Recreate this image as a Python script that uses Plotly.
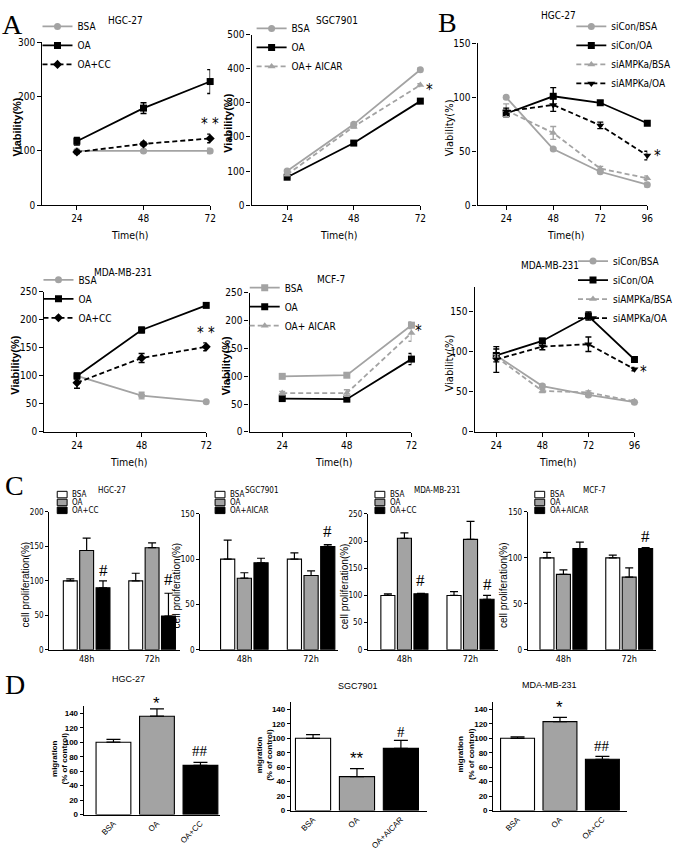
import plotly.graph_objects as go

W, H = 678, 858
GREY = '#a3a3a3'
BLACK = '#000000'
NARROW = "Liberation Sans Narrow, Arial Narrow, DejaVu Sans Condensed, sans-serif"
SANS = "Liberation Sans, Arial, DejaVu Sans, sans-serif"
SERIF = "Liberation Serif, Times New Roman, DejaVu Serif, serif"

# ---------------- data ----------------
T3 = [24, 48, 72]
T4 = [24, 48, 72, 96]

# A: HGC-27
a1_bsa = [100, 100, 100]; a1_bsa_err = [2, 2, 5]
a1_oa = [118, 179, 228]; a1_oa_err = [7, 10, 22]
a1_cc = [98, 113, 123]; a1_cc_err = [3, 3, 8]
# A: SGC7901
a2_bsa = [100, 237, 397]; a2_bsa_err = [4, 4, 5]
a2_oa = [82, 182, 305]; a2_oa_err = [3, 5, 7]
a2_aicar = [90, 230, 352]; a2_aicar_err = [3, 4, 4]
# B: HGC-27
b1_con_bsa = [100, 52, 31, 19]; b1_con_bsa_err = [1, 1, 1, 2]
b1_con_oa = [85, 101, 95, 76]; b1_con_oa_err = [3, 8, 2, 2]
b1_ampk_bsa = [88, 67, 34, 25]; b1_ampk_bsa_err = [6, 6, 2, 2]
b1_ampk_oa = [87, 93, 74, 46]; b1_ampk_oa_err = [3, 6, 3, 4]
# A: MDA-MB-231
a3_bsa = [100, 65, 54]; a3_bsa_err = [5, 6, 2]
a3_oa = [100, 182, 226]; a3_oa_err = [5, 5, 3]
a3_cc = [88, 132, 152]; a3_cc_err = [10, 8, 7]
# A: MCF-7
a4_bsa = [100, 102, 192]; a4_bsa_err = [2, 3, 6]
a4_oa = [60, 59, 131]; a4_oa_err = [3, 3, 10]
a4_aicar = [70, 70, 178]; a4_aicar_err = [3, 6, 15]
# B: MDA-MB-231
b2_con_bsa = [95, 57, 46, 37]; b2_con_bsa_err = [3, 2, 2, 2]
b2_con_oa = [95, 113, 144, 90]; b2_con_oa_err = [8, 3, 5, 3]
b2_ampk_bsa = [93, 51, 49, 38]; b2_ampk_bsa_err = [3, 2, 2, 2]
b2_ampk_oa = [90, 106, 109, 78]; b2_ampk_oa_err = [16, 4, 9, 2]

# C: cell proliferation
C_CATS = ['48h', '72h']
c1_bsa = [100, 100]; c1_bsa_err = [3, 11]
c1_oa = [144, 148]; c1_oa_err = [18, 7]
c1_cc = [90, 49]; c1_cc_err = [10, 33]
c2_bsa = [100, 100]; c2_bsa_err = [21, 7]
c2_oa = [79, 82]; c2_oa_err = [6, 5]
c2_aicar = [96, 114]; c2_aicar_err = [5, 2]
c3_bsa = [100, 100]; c3_bsa_err = [3, 7]
c3_oa = [205, 203]; c3_oa_err = [10, 33]
c3_cc = [103, 93]; c3_cc_err = [1, 7]
c4_bsa = [100, 100]; c4_bsa_err = [6, 3]
c4_oa = [82, 79]; c4_oa_err = [5, 10]
c4_aicar = [110, 110]; c4_aicar_err = [7, 1]

# D: migration
d1_cats = ['BSA', 'OA', 'OA+CC']; d1_vals = [100, 136, 68]; d1_err = [4, 10, 4]
d2_cats = ['BSA', 'OA', 'OA+AICAR']; d2_vals = [100, 47, 86]; d2_err = [5, 11, 11]
d3_cats = ['BSA', 'OA', 'OA+CC']; d3_vals = [100, 123, 71]; d3_err = [2, 6, 4]

# ---------------- helpers ----------------
def dx(l, r):
    return [l / W, r / W]

def dy(t, b):
    return [1 - b / H, 1 - t / H]

def axname(i):
    return ('x' if i == 1 else f'x{i}'), ('y' if i == 1 else f'y{i}')

def legname(i):
    return 'legend' if i == 1 else f'legend{i}'

fig = go.Figure()
annotations = []
shapes = []
AXINFO = {}

AX = dict(showline=True, linecolor='black', linewidth=1.4, ticks='outside', ticklen=4,
          tickwidth=1.3, tickcolor='black', showgrid=False, zeroline=False,
          tickfont=dict(family=NARROW, size=10, color='black'))

def add_axes(i, xl, xr, yt, yb, xrange, yrange, xkw, ykw):
    xa, ya = axname(i)
    xk = 'xaxis' if i == 1 else f'xaxis{i}'
    yk = 'yaxis' if i == 1 else f'yaxis{i}'
    AXINFO[i] = (xl, xr, yt, yb, xrange, yrange)
    fig.layout[xk] = dict(AX, domain=dx(xl, xr), range=xrange, anchor=ya, **xkw)
    fig.layout[yk] = dict(AX, domain=dy(yt, yb), range=yrange, anchor=xa, **ykw)

def ann(text, x, y, size=10, family=NARROW, angle=0, xanchor='center', bold=False, panel=None):
    # panel: position given in that panel's data units, converted to page pixels
    if panel is not None:
        xl, xr, yt, yb, xrg, yrg = AXINFO[panel]
        x = xl + (x - xrg[0]) / (xrg[1] - xrg[0]) * (xr - xl)
        y = yb - (y - yrg[0]) / (yrg[1] - yrg[0]) * (yb - yt)
    annotations.append(dict(
        text=text, showarrow=False, textangle=angle, xanchor=xanchor, yanchor='middle',
        x=x / W, y=1 - y / H, xref='paper', yref='paper',
        font=dict(family=family, size=size, color='black', weight='bold' if bold else 'normal')))

def line(i, x, y, err, name, color, symbol, dash):
    xa, ya = axname(i)
    fig.add_trace(go.Scatter(
        x=x, y=y, name=name, mode='lines+markers', cliponaxis=False,
        line=dict(color=color, width=1.8, dash=dash),
        marker=dict(symbol=symbol, size=7, color=color),
        error_y=dict(type='data', array=err, color=color, thickness=1.4, width=3),
        xaxis=xa, yaxis=ya, legend=legname(i)))

def legend_cfg(i, mx, my, size=10):
    key = legname(i)
    fig.layout[key] = dict(x=(mx - 19) / W, y=1 - (my - 19) / H, xanchor='left', yanchor='top',
                           bgcolor='rgba(0,0,0,0)', font=dict(family=NARROW, size=size, color='black'),
                           itemwidth=30, tracegroupgap=0)

# ---------------- line panels ----------------
line_panels = [
    (1, 43, 213, 37, 202, [11.6, 72], [0, 300], [0, 100, 200, 300], T3, (57, 25), 'HGC-27', (127, 15), 17, True),
    (2, 255, 426, 29, 202, [11.2, 72], [0, 500], [0, 100, 200, 300, 400, 500], T3, (274, 27), 'SGC7901', (342, 15), 231, True),
    (3, 484, 656, 38, 202, [9.4, 96], [0, 150], [0, 50, 100, 150], T4, (598, 25), 'HGC-27', (566, 10), 455, False),
    (4, 45, 209, 290, 432, [11.9, 72], [0, 250], [0, 50, 100, 150, 200, 250], T3, (58, 282), 'MDA-MB-231', (125, 270), 15, True),
    (5, 253, 417, 291, 432, [11.9, 72], [0, 250], [0, 50, 100, 150, 200, 250], T3, (267, 290), 'MCF-7', (335, 277), 229, True),
    (6, 481, 643, 285, 432, [12.7, 96], [0, 180], [0, 50, 100, 150], T4, (600, 263), 'MDA-MB-231', (557, 263), 455, False),
]
for (i, xl, xr, yt, yb, xrg, yrg, yt_vals, xt_vals, lg, title, tpos, ytx, ybold) in line_panels:
    add_axes(i, xl, xr, yt, yb, xrg, yrg, dict(tickvals=xt_vals), dict(tickvals=yt_vals))
    legend_cfg(i, *lg)
    ann(title, tpos[0], tpos[1], size=10)
    ann('Viability(%)', ytx, (yt + yb) / 2 + 3, size=11,
        family=SANS if ybold else NARROW, angle=-90, bold=ybold)
    ann('Time(h)', (xl + xr) / 2 + 3, yb + 30, size=10.5)

line(1, T3, a1_bsa, a1_bsa_err, 'BSA', GREY, 'circle', 'solid')
line(1, T3, a1_oa, a1_oa_err, 'OA', BLACK, 'square', 'solid')
line(1, T3, a1_cc, a1_cc_err, 'OA+CC', BLACK, 'diamond', '5px,3px')
line(2, T3, a2_bsa, a2_bsa_err, 'BSA', GREY, 'circle', 'solid')
line(2, T3, a2_oa, a2_oa_err, 'OA', BLACK, 'square', 'solid')
line(2, T3, a2_aicar, a2_aicar_err, 'OA+ AICAR', GREY, 'triangle-up', '5px,3px')
line(3, T4, b1_con_bsa, b1_con_bsa_err, 'siCon/BSA', GREY, 'circle', 'solid')
line(3, T4, b1_con_oa, b1_con_oa_err, 'siCon/OA', BLACK, 'square', 'solid')
line(3, T4, b1_ampk_bsa, b1_ampk_bsa_err, 'siAMPKa/BSA', GREY, 'triangle-up', '5px,3px')
line(3, T4, b1_ampk_oa, b1_ampk_oa_err, 'siAMPKa/OA', BLACK, 'triangle-down', '5px,3px')
line(4, T3, a3_bsa, a3_bsa_err, 'BSA', GREY, 'circle', 'solid')
line(4, T3, a3_oa, a3_oa_err, 'OA', BLACK, 'square', 'solid')
line(4, T3, a3_cc, a3_cc_err, 'OA+CC', BLACK, 'diamond', '5px,3px')
line(5, T3, a4_bsa, a4_bsa_err, 'BSA', GREY, 'square', 'solid')
line(5, T3, a4_oa, a4_oa_err, 'OA', BLACK, 'square', 'solid')
line(5, T3, a4_aicar, a4_aicar_err, 'OA+ AICAR', GREY, 'triangle-up', '5px,3px')
line(6, T4, b2_con_bsa, b2_con_bsa_err, 'siCon/BSA', GREY, 'circle', 'solid')
line(6, T4, b2_con_oa, b2_con_oa_err, 'siCon/OA', BLACK, 'square', 'solid')
line(6, T4, b2_ampk_bsa, b2_ampk_bsa_err, 'siAMPKa/BSA', GREY, 'triangle-up', '5px,3px')
line(6, T4, b2_ampk_oa, b2_ampk_oa_err, 'siAMPKa/OA', BLACK, 'triangle-down', '5px,3px')

# significance marks (line panels)
ann('* *', 72, 150, size=15, panel=1)
ann('*', 75.2, 338, size=15, panel=2)
ann('*', 101, 46, size=15, panel=3)
ann('* *', 72, 177, size=15, panel=4)
ann('*', 74.6, 181, size=15, panel=5)
ann('*', 100.6, 74, size=15, panel=6)

# ---------------- C: bar panels ----------------
def cbar(i, y, err, name, color):
    xa, ya = axname(i)
    fig.add_trace(go.Bar(
        x=C_CATS, y=y, name=name, showlegend=False, cliponaxis=False,
        marker=dict(color=color, line=dict(color='black', width=1.1)),
        error_y=dict(type='data', array=err, arrayminus=[0] * len(err), symmetric=False,
                     color='black', thickness=1.2, width=4),
        xaxis=xa, yaxis=ya))

c_panels = [
    (7, 50, 182, 513, 653, [-0.57, 1.42], [0, 200], 'HGC-27', 114, 58, ['BSA', 'OA', 'OA+CC']),
    (8, 203, 343, 515, 653, [-0.66, 1.41], [0, 150], 'SGC7901', 266, 218, ['BSA', 'OA', 'OA+AICAR']),
    (9, 373, 505, 515, 653, [-0.55, 1.42], [0, 250], 'MDA-MB-231', 443, 380, ['BSA', 'OA', 'OA+CC']),
    (10, 535, 665, 513, 653, [-0.54, 1.41], [0, 150], 'MCF-7', 603, 542, ['BSA', 'OA', 'OA+AICAR']),
]
for (i, xl, xr, yt, yb, xrg, yrg, title, tx, lx, names) in c_panels:
    add_axes(i, xl, xr, yt, yb, xrg, yrg,
             dict(type='category', ticks='', tickfont=dict(family=NARROW, size=9, color='black')),
             dict(dtick=50, tick0=0, ticklen=3, tickfont=dict(family=NARROW, size=8, color='black')))
    ann(title, tx, 491, size=8)
    ann('cell proliferation(%)', xl - 24, (yt + yb) / 2 + 4, size=10, family=SANS, angle=-90)
    for k, (nm, col) in enumerate(zip(names, ['white', GREY, 'black'])):
        cy = 495.5 + 8 * k
        shapes.append(dict(type='rect', xref='paper', yref='paper', x0=lx / W, x1=(lx + 10) / W,
                           y0=1 - (cy + 3.3) / H, y1=1 - (cy - 3.3) / H,
                           fillcolor=col, line=dict(color='black', width=1)))
        ann(nm, lx + 13, cy, size=8, xanchor='left')

cbar(7, c1_bsa, c1_bsa_err, 'BSA', 'white')
cbar(7, c1_oa, c1_oa_err, 'OA', GREY)
cbar(7, c1_cc, c1_cc_err, 'OA+CC', 'black')
cbar(8, c2_bsa, c2_bsa_err, 'BSA', 'white')
cbar(8, c2_oa, c2_oa_err, 'OA', GREY)
cbar(8, c2_aicar, c2_aicar_err, 'OA+AICAR', 'black')
cbar(9, c3_bsa, c3_bsa_err, 'BSA', 'white')
cbar(9, c3_oa, c3_oa_err, 'OA', GREY)
cbar(9, c3_cc, c3_cc_err, 'OA+CC', 'black')
cbar(10, c4_bsa, c4_bsa_err, 'BSA', 'white')
cbar(10, c4_oa, c4_oa_err, 'OA', GREY)
cbar(10, c4_aicar, c4_aicar_err, 'OA+AICAR', 'black')

ann('#', 0.25, 115, size=17, family=SERIF, panel=7)
ann('#', 1.25, 102, size=17, family=SERIF, panel=7)
ann('#', 1.25, 130, size=17, family=SERIF, panel=8)
ann('#', 0.25, 127, size=17, family=SERIF, panel=9)
ann('#', 1.25, 120, size=17, family=SERIF, panel=9)
ann('#', 1.25, 123, size=17, family=SERIF, panel=10)

# ---------------- D: migration panels ----------------
d_panels = [
    (11, 85, 223, 710, 820, [-0.68, 2.45], d1_cats, d1_vals, d1_err, 'HGC-27', (130, 683), 60),
    (12, 295, 433, 706, 816, [-0.5, 2.6], d2_cats, d2_vals, d2_err, 'SGC7901', (363, 690), 268),
    (13, 500, 635, 706, 816, [-0.57, 2.57], d3_cats, d3_vals, d3_err, 'MDA-MB-231', (557, 689), 472),
]
for (i, xl, xr, yt, yb, xrg, cats, vals, err, title, tpos, ytx) in d_panels:
    add_axes(i, xl, xr, yt, yb, xrg, [0, 150],
             dict(type='category', ticks='', tickangle=-45,
                  tickfont=dict(family=SANS, size=8, color='black')),
             dict(dtick=20, tick0=0, ticklen=3,
                  tickfont=dict(family=SANS, size=8, color='black', weight='bold')))
    xa, ya = axname(i)
    fig.add_trace(go.Bar(
        x=cats, y=vals, width=0.8, showlegend=False, cliponaxis=False,
        marker=dict(color=['white', GREY, 'black'], line=dict(color='black', width=1.1)),
        error_y=dict(type='data', array=err, arrayminus=[0] * len(err), symmetric=False,
                     color='black', thickness=1.2, width=7),
        xaxis=xa, yaxis=ya))
    ann(title, tpos[0], tpos[1], size=9, family=SANS)
    ann('migration<br>(% of control)', ytx, (yt + yb) / 2 - 2, size=8, family=SANS, angle=-90, bold=True)

ann('*', 1, 154, size=17, family=SANS, panel=11)
ann('##', 2, 88, size=15, family=SERIF, panel=11)
ann('**', 1, 72, size=17, family=SANS, panel=12)
ann('#', 2, 108, size=15, family=SERIF, panel=12)
ann('*', 1, 143, size=17, family=SANS, panel=13)
ann('##', 2, 90, size=15, family=SERIF, panel=13)

# panel letters
ann('A', 13, 19, size=28, family=SERIF)
ann('B', 454, 17, size=28, family=SERIF)
ann('C', 15, 486, size=28, family=SERIF)
ann('D', 15, 688, size=28, family=SERIF)

fig.update_layout(
    width=W, height=H, margin=dict(l=0, r=0, t=0, b=0),
    paper_bgcolor='white', plot_bgcolor='white',
    barmode='group', bargap=0.25, bargroupgap=0.15,
    annotations=annotations, shapes=shapes,
    font=dict(family=NARROW, color='black'),
)
fig.write_html("out.html", config={'displayModeBar': False},
               post_script="document.body.style.margin='0px';")
